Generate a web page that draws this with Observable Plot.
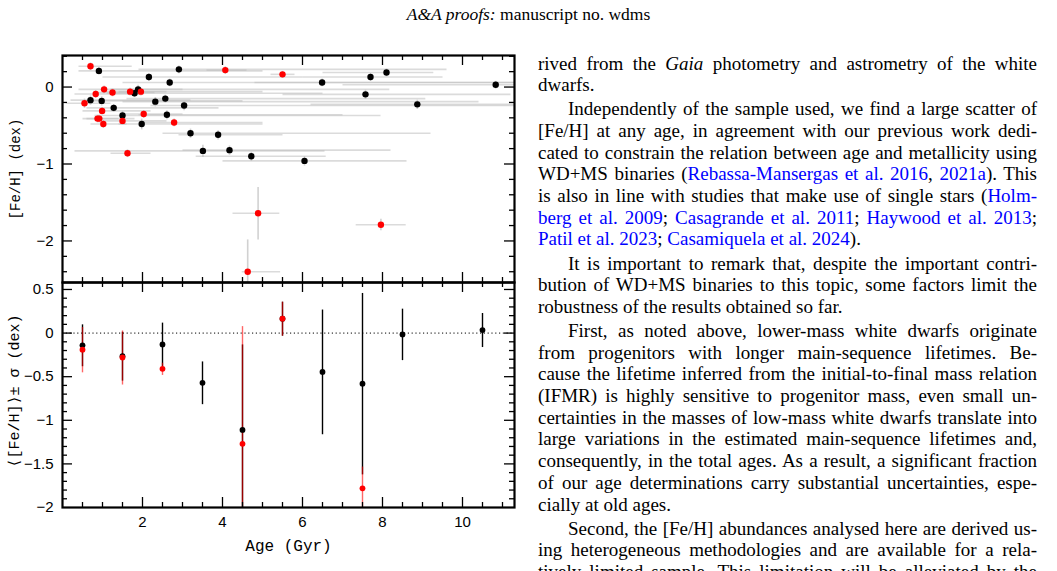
<!DOCTYPE html>
<html><head><meta charset="utf-8">
<script src="https://cdn.jsdelivr.net/npm/d3@7"></script>
<script src="https://cdn.jsdelivr.net/npm/@observablehq/plot@0.6"></script>
<style>
html,body{margin:0;padding:0;background:#fff;}
body{width:1057px;height:571px;overflow:hidden;position:relative;font-family:"Liberation Serif","Times New Roman",serif;color:#000;}
#header{position:absolute;top:4px;left:0;width:1057px;text-align:center;font-size:17.5px;line-height:20px;}
#topPlot{position:absolute;left:0;top:0;}
#botPlot{position:absolute;left:0;top:282px;}
.ytitle{position:absolute;width:240px;height:20px;line-height:20px;text-align:center;white-space:nowrap;font-family:"Liberation Mono","DejaVu Sans Mono",monospace;transform:rotate(-90deg);transform-origin:50% 50%;}
#col{position:absolute;left:538px;top:52.6px;width:499px;font-size:19px;line-height:21.7px;}
#col .l{text-align:justify;text-align-last:justify;height:21.7px;}
#col .e{text-align:left;text-align-last:left;height:21.7px;}
#col .p{margin-top:2.4px;}
#col .i{text-indent:30px;}
#col a{color:#0000ff;text-decoration:none;}
</style></head>
<body>
<div id="header"><i>A&amp;A proofs:</i> manuscript no. wdms</div>
<div id="topPlot"></div>
<div id="botPlot"></div>
<div id="ytTop" class="ytitle" style="left:-104px;top:158.5px;font-size:14px;"></div>
<div id="ytBot" class="ytitle" style="left:-104px;top:381px;font-size:15px;"></div>
<div id="col">
<div class="l">rived from the <i>Gaia</i> photometry and astrometry of the white</div>
<div class="e">dwarfs.</div>
<div class="l p i">Independently of the sample used, we find a large scatter of</div>
<div class="l">[Fe/H] at any age, in agreement with our previous work dedi-</div>
<div class="l">cated to constrain the relation between age and metallicity using</div>
<div class="l">WD+MS binaries (<a>Rebassa-Mansergas et al. 2016</a>, <a>2021a</a>). This</div>
<div class="l">is also in line with studies that make use of single stars (<a>Holm-</a></div>
<div class="l"><a>berg et al. 2009</a>; <a>Casagrande et al. 2011</a>; <a>Haywood et al. 2013</a>;</div>
<div class="e"><a>Patil et al. 2023</a>; <a>Casamiquela et al. 2024</a>).</div>
<div class="l p i">It is important to remark that, despite the important contri-</div>
<div class="l">bution of WD+MS binaries to this topic, some factors limit the</div>
<div class="e">robustness of the results obtained so far.</div>
<div class="l p i">First, as noted above, lower-mass white dwarfs originate</div>
<div class="l">from progenitors with longer main-sequence lifetimes. Be-</div>
<div class="l">cause the lifetime inferred from the initial-to-final mass relation</div>
<div class="l">(IFMR) is highly sensitive to progenitor mass, even small un-</div>
<div class="l">certainties in the masses of low-mass white dwarfs translate into</div>
<div class="l">large variations in the estimated main-sequence lifetimes and,</div>
<div class="l">consequently, in the total ages. As a result, a significant fraction</div>
<div class="l">of our age determinations carry substantial uncertainties, espe-</div>
<div class="e">cially at old ages.</div>
<div class="l p i">Second, the [Fe/H] abundances analysed here are derived us-</div>
<div class="l">ing heterogeneous methodologies and are available for a rela-</div>
<div class="l">tively limited sample. This limitation will be alleviated by the</div>
</div>
<script>
// ---- Top panel: individual objects (black = full sample, red = subsample) ----
const blackAge   = [0.70,0.91,0.98,1.28,1.50,1.80,1.89,1.98,2.16,2.32,2.57,2.61,2.68,2.91,3.04,3.20,3.51,3.89,4.175,4.72,6.05,6.49,7.575,7.70,8.10,8.87,10.83];
const blackFeh   = [-0.17,0.21,-0.18,-0.27,-0.37,-0.08,-0.03,-0.48,0.13,-0.19,-0.15,-0.36,0.06,0.23,-0.24,-0.60,-0.83,-0.62,-0.82,-0.90,-0.96,0.06,-0.095,0.13,0.19,-0.225,0.03];
const blackAgeLo = [0.2,0.4,0.5,0.6,0.8,1.1,1.2,1.4,1.0,1.5,1.6,1.9,1.5,1.9,2.2,2.5,0.3,2.9,3.0,3.33,4.0,4.8,5.5,6.0,6.5,6.2,7.0];
const blackAgeHi = [3.2,5.0,4.5,3.9,7.95,6.5,8.17,5.0,6.0,10.4,9.07,7.0,11.5,9.6,11.5,9.2,6.55,5.5,8.2,6.58,8.6,11.5,11.2,9.5,9.27,11.5,11.5];
const blackFehErr= [0.06,0.05,0.06,0.05,0.06,0.05,0.06,0.07,0.05,0.06,0.05,0.06,0.05,0.05,0.06,0.06,0.08,0.06,0.06,0.06,0.06,0.05,0.06,0.05,0.05,0.06,0.05];

const redAge   = [0.55,0.70,0.83,0.875,0.92,0.99,1.02,1.04,1.25,1.50,1.625,1.69,1.96,2.03,2.79,4.07,4.63,4.89,5.50,7.96];
const redFeh   = [-0.21,0.27,-0.09,-0.41,-0.41,-0.31,-0.48,-0.03,-0.07,-0.44,-0.86,-0.06,-0.06,-0.35,-0.46,0.22,-2.40,-1.64,0.165,-1.79];
const redAgeLo = [0.1,0.4,0.3,0.5,0.6,0.5,0.7,0.4,0.8,1.0,1.2,1.0,1.4,1.5,2.0,3.6,4.48,4.25,5.2,7.33];
const redAgeHi = [1.2,1.73,2.0,1.8,1.4,2.2,1.6,3.0,2.3,2.6,2.2,5.0,2.6,3.0,5.0,4.6,5.44,5.42,5.8,8.58];
const redFehLo = [-0.27,0.22,-0.14,-0.46,-0.46,-0.36,-0.53,-0.08,-0.12,-0.49,-0.91,-0.11,-0.11,-0.40,-0.51,0.17,-2.60,-1.98,0.12,-1.86];
const redFehHi = [-0.15,0.32,-0.04,-0.36,-0.36,-0.26,-0.43,0.02,-0.02,-0.39,-0.81,-0.01,-0.01,-0.30,-0.41,0.27,-1.98,-1.30,0.21,-1.71];

// ---- Bottom panel: binned means ± sigma ----
const binAge       = [0.5,1.5,2.5,3.5,4.5,5.5,6.5,7.5,8.5,10.5];
const binMean      = [-0.14,-0.265,-0.13,-0.57,-1.11,0.165,-0.445,-0.58,-0.015,0.035];
const binSigma     = [0.24,0.28,0.25,0.245,0.98,0.195,0.715,1.04,0.295,0.195];
const binAgeRed    = [0.5,1.5,2.5,4.5,5.5,7.5];
const binMeanRed   = [-0.19,-0.28,-0.41,-1.27,0.165,-1.78];
const binSigmaRed  = [0.26,0.31,0.07,1.35,0.195,0.25];

// ---- Axes / ticks ----
const xDomain = [0, 11.3];
const topYDomain = [-2.54, 0.41];
const botYDomain = [-2, 0.58];
const xTickLabels = [2,4,6,8,10];
const xMajorTicks = [2,4,6,8,10];
const xMinorTicks = [0.5,1,1.5,2.5,3,3.5,4.5,5,5.5,6.5,7,7.5,8.5,9,9.5,10.5,11];
const topYLabels = [0,-1,-2];
const topYMajor = [0,-1,-2];
const topYMinor = [0.4,0.2,-0.2,-0.4,-0.6,-0.8,-1.2,-1.4,-1.6,-1.8,-2.2,-2.4];
const botYLabels = [0.5,0,-0.5,-1,-1.5,-2];
const botYMajor = [0.5,0,-0.5,-1,-1.5];
const botYMinor = [0.4,0.3,0.2,0.1,-0.1,-0.2,-0.3,-0.4,-0.6,-0.7,-0.8,-0.9,-1.1,-1.2,-1.3,-1.4,-1.6,-1.7,-1.8,-1.9];
const topYTitle = "[Fe/H] (dex)";
const botYTitle = "\u27E8[Fe/H]\u27E9\u00B1 \u03C3 (dex)";
const xTitle = "Age (Gyr)";

document.getElementById("ytTop").textContent = topYTitle;
document.getElementById("ytBot").textContent = botYTitle;

const W = 520, ML = 62, MR = 6;
const FW = W - ML - MR;
const majLen = 10, minLen = 5;

function frameTicks(H, FWd, yMaj, yMin) {
  const sw = 1.3;
  return [
    Plot.tickX(xMajorTicks, {x: d => d, insetTop: H - majLen, strokeWidth: sw}),
    Plot.tickX(xMinorTicks, {x: d => d, insetTop: H - minLen, strokeWidth: sw}),
    Plot.tickX(xMajorTicks, {x: d => d, insetBottom: H - majLen, strokeWidth: sw}),
    Plot.tickX(xMinorTicks, {x: d => d, insetBottom: H - minLen, strokeWidth: sw}),
    Plot.tickY(yMaj, {y: d => d, insetRight: FWd - majLen, strokeWidth: sw}),
    Plot.tickY(yMin, {y: d => d, insetRight: FWd - minLen, strokeWidth: sw}),
    Plot.tickY(yMaj, {y: d => d, insetLeft: FWd - majLen, strokeWidth: sw}),
    Plot.tickY(yMin, {y: d => d, insetLeft: FWd - minLen, strokeWidth: sw})
  ];
}

const blackRows = blackAge.map((a, i) => ({age: a, feh: blackFeh[i], lo: blackAgeLo[i], hi: blackAgeHi[i], fLo: blackFeh[i] - blackFehErr[i], fHi: blackFeh[i] + blackFehErr[i]}));
const redRows = redAge.map((a, i) => ({age: a, feh: redFeh[i], lo: redAgeLo[i], hi: redAgeHi[i], fLo: redFehLo[i], fHi: redFehHi[i]}));
const allRows = blackRows.concat(redRows);

const H1 = 282 - 55;
const topPlot = Plot.plot({
  width: W, height: 282, marginLeft: ML, marginRight: MR, marginTop: 55, marginBottom: 0,
  style: {fontFamily: "Liberation Sans, sans-serif", fontSize: "15px", background: "transparent", overflow: "visible"},
  x: {domain: xDomain, axis: null, clamp: true},
  y: {domain: topYDomain, clamp: true},
  marks: [
    Plot.link(allRows, {x1: "lo", x2: "hi", y1: "feh", y2: "feh", stroke: "#bdbdbd", strokeOpacity: 0.55, strokeWidth: 1.6}),
    Plot.link(allRows, {x1: "age", x2: "age", y1: "fLo", y2: "fHi", stroke: "#bdbdbd", strokeOpacity: 0.7, strokeWidth: 1.6}),
    Plot.dot(blackRows, {x: "age", y: "feh", r: 3.2, fill: "#000", stroke: "none"}),
    Plot.dot(redRows, {x: "age", y: "feh", r: 3.2, fill: "#ff0000", stroke: "none"}),
    ...frameTicks(H1, FW, topYMajor, topYMinor),
    Plot.frame({strokeWidth: 2.2}),
    Plot.axisY({ticks: topYLabels, tickSize: 0, tickPadding: 9, label: null, tickFormat: d3.format("")})
  ]
});
document.getElementById("topPlot").appendChild(topPlot);

const binRows = binAge.map((a, i) => ({age: a, m: binMean[i], lo: binMean[i] - binSigma[i], hi: binMean[i] + binSigma[i]}));
const binRedRows = binAgeRed.map((a, i) => ({age: a, m: binMeanRed[i], lo: binMeanRed[i] - binSigmaRed[i], hi: binMeanRed[i] + binSigmaRed[i]}));

const H2 = 225;
const botPlot = Plot.plot({
  width: W, height: 289, marginLeft: ML, marginRight: MR, marginTop: 0, marginBottom: 64,
  style: {fontFamily: "Liberation Sans, sans-serif", fontSize: "15px", background: "transparent", overflow: "visible"},
  x: {domain: xDomain, clamp: true},
  y: {domain: botYDomain, clamp: true},
  marks: [
    Plot.ruleY([0], {stroke: "#000", strokeWidth: 1, strokeDasharray: "1.2,2.6"}),
    Plot.link(binRows, {x1: "age", x2: "age", y1: "lo", y2: "hi", stroke: "#000", strokeWidth: 1.4}),
    Plot.link(binRedRows, {x1: "age", x2: "age", y1: "lo", y2: "hi", stroke: "#ff0000", strokeOpacity: 0.6, strokeWidth: 1.4}),
    Plot.dot(binRows, {x: "age", y: "m", r: 2.9, fill: "#000", stroke: "none"}),
    Plot.dot(binRedRows, {x: "age", y: "m", r: 2.9, fill: "#ff0000", stroke: "none"}),
    ...frameTicks(H2, FW, botYMajor, botYMinor),
    Plot.frame({strokeWidth: 2.2}),
    Plot.axisY({ticks: botYLabels, tickSize: 0, tickPadding: 9, label: null, tickFormat: d3.format("")}),
    Plot.axisX({ticks: xTickLabels, tickSize: 0, tickPadding: 9, label: null, tickFormat: d3.format("")}),
    Plot.text([xTitle], {frameAnchor: "bottom", dy: 38, textAnchor: "middle", lineAnchor: "middle", text: d => d, fontFamily: "Liberation Mono, monospace", fontSize: 16})
  ]
});
document.getElementById("botPlot").appendChild(botPlot);
</script>
</body></html>
